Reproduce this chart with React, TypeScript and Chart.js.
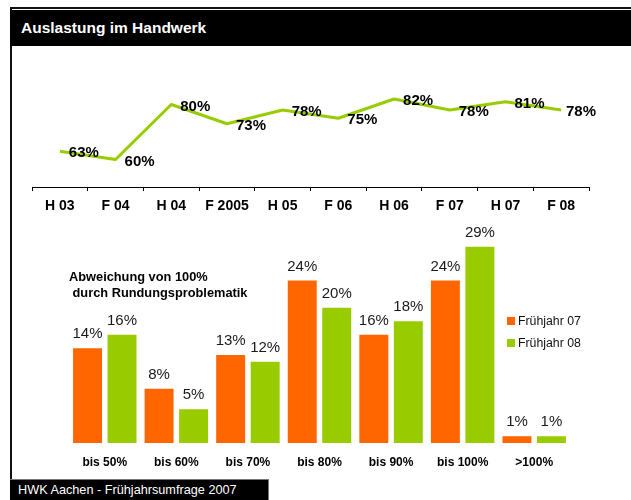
import React, { useEffect, useRef } from 'react';
import { Chart, registerables } from 'chart.js';

Chart.register(...registerables);

// ---- data ----
const lineLabels = ['H 03', 'F 04', 'H 04', 'F 2005', 'H 05', 'F 06', 'H 06', 'F 07', 'H 07', 'F 08'];
const lineValues = [63, 60, 80, 73, 78, 75, 82, 78, 81, 78];

const barCategories = ['bis 50%', 'bis 60%', 'bis 70%', 'bis 80%', 'bis 90%', 'bis 100%', '>100%'];
const spring07 = [14, 8, 13, 24, 16, 24, 1];
const spring08 = [16, 5, 12, 20, 18, 29, 1];
const seriesNames = ['Frühjahr 07', 'Frühjahr 08'];

const chartTitle = 'Auslastung im Handwerk';
const noteLines = ['Abweichung von 100%', ' durch Rundungsproblematik'];
const footerText = 'HWK Aachen - Frühjahrsumfrage 2007';

// ---- styles ----
const FONT = '"Liberation Sans", Arial, Helvetica, sans-serif';
const ORANGE = '#FF6600';
const GREEN = '#99CC00';
const seriesColors = [ORANGE, GREEN];

const lineLabelPlugin = {
  id: 'lineValueLabels',
  afterDatasetsDraw(chart: any) {
    const ctx = chart.ctx;
    const meta = chart.getDatasetMeta(0);
    const ds = chart.data.datasets[0];
    ctx.save();
    ctx.font = `bold 15px ${FONT}`;
    ctx.fillStyle = '#000';
    ctx.textBaseline = 'middle';
    ctx.textAlign = 'left';
    meta.data.forEach((pt: any, i: number) => {
      const text = ds.data[i] + '%';
      const w = ctx.measureText(text).width;
      let x = pt.x + 9;
      const maxRight = chart.chartArea.right + 7;
      if (x + w > maxRight) x = maxRight - w;
      ctx.fillText(text, x, pt.y + 2);
    });
    ctx.restore();
  },
};

const barLabelPlugin = {
  id: 'barValueLabels',
  afterDatasetsDraw(chart: any) {
    const ctx = chart.ctx;
    ctx.save();
    ctx.font = `15px ${FONT}`;
    ctx.fillStyle = '#1a1a1a';
    ctx.textBaseline = 'middle';
    ctx.textAlign = 'center';
    chart.data.datasets.forEach((ds: any, di: number) => {
      const meta = chart.getDatasetMeta(di);
      meta.data.forEach((bar: any, i: number) => {
        ctx.fillText(ds.data[i] + '%', bar.x, bar.y - 14);
      });
    });
    ctx.restore();
  },
};

export default function App() {
  const lineRef = useRef<HTMLCanvasElement>(null);
  const barRef = useRef<HTMLCanvasElement>(null);

  useEffect(() => {
    const lineChart = new Chart(lineRef.current as HTMLCanvasElement, {
      type: 'line',
      data: {
        labels: lineLabels,
        datasets: [
          {
            data: lineValues,
            borderColor: GREEN,
            borderWidth: 3,
            pointRadius: 0,
            tension: 0,
            borderJoinStyle: 'round',
            fill: false,
          },
        ],
      },
      options: {
        responsive: false,
        animation: false,
        layout: { padding: { left: 32, right: 42, top: 27, bottom: 13 } },
        plugins: { legend: { display: false }, tooltip: { enabled: false } },
        scales: {
          x: {
            type: 'category',
            offset: true,
            grid: {
              offset: true,
              drawOnChartArea: false,
              drawTicks: true,
              tickLength: 4,
              color: '#000',
              lineWidth: 1,
            },
            border: { display: true, color: '#000', width: 1 },
            ticks: {
              color: '#000',
              padding: 7,
              font: { family: FONT, size: 14, weight: 'bold' },
              maxRotation: 0,
              autoSkip: false,
            },
            afterFit: (scale: any) => {
              scale.height = 30;
            },
          },
          y: { display: false, min: 50, max: 90 },
        },
      },
      plugins: [lineLabelPlugin],
    } as any);

    const barChart = new Chart(barRef.current as HTMLCanvasElement, {
      type: 'bar',
      data: {
        labels: barCategories,
        datasets: [
          { label: seriesNames[0], data: spring07, backgroundColor: seriesColors[0], categoryPercentage: 0.964, barPercentage: 0.84 },
          { label: seriesNames[1], data: spring08, backgroundColor: seriesColors[1], categoryPercentage: 0.964, barPercentage: 0.84 },
        ],
      },
      options: {
        responsive: false,
        animation: false,
        layout: { padding: { left: 69, right: 61, top: 20, bottom: 7 } },
        plugins: { legend: { display: false }, tooltip: { enabled: false } },
        scales: {
          x: {
            grid: { display: false, drawTicks: false },
            border: { display: false },
            ticks: {
              color: '#000',
              padding: 12,
              font: { family: FONT, size: 12, weight: 'bold' },
              maxRotation: 0,
              autoSkip: false,
            },
            afterFit: (scale: any) => {
              scale.height = 30;
            },
          },
          y: { display: false, min: 0, max: 30 },
        },
      },
      plugins: [barLabelPlugin],
    } as any);

    return () => {
      lineChart.destroy();
      barChart.destroy();
    };
  }, []);

  const abs = (o: React.CSSProperties): React.CSSProperties => ({ position: 'absolute', ...o });

  return (
    <div
      style={{
        position: 'fixed',
        left: 0,
        top: 0,
        width: 631,
        height: 500,
        background: '#fff',
        overflow: 'hidden',
        fontFamily: FONT,
      }}
    >
      {/* frame lines */}
      <div style={abs({ left: 10, top: 7, width: 621, height: 2, background: '#111' })} />
      <div style={abs({ left: 10, top: 7, width: 2, height: 473, background: '#111' })} />

      {/* title bar */}
      <div
        style={abs({
          left: 10,
          top: 10,
          width: 621,
          height: 36,
          background: '#000',
          color: '#fff',
          fontWeight: 'bold',
          fontSize: 15.5,
          lineHeight: '36px',
          paddingLeft: 11,
          boxSizing: 'border-box',
          whiteSpace: 'nowrap',
        })}
      >
        {chartTitle}
      </div>

      <canvas ref={lineRef} width={631} height={180} style={abs({ left: 0, top: 50, width: 631, height: 180 })} />
      <canvas ref={barRef} width={631} height={260} style={abs({ left: 0, top: 220, width: 631, height: 260 })} />

      {/* note */}
      <div style={abs({ left: 69, top: 269, fontSize: 12.8, fontWeight: 'bold', color: '#000', lineHeight: '16px', whiteSpace: 'pre' })}>
        {noteLines[0]}
      </div>
      <div style={abs({ left: 69, top: 285, fontSize: 12.8, fontWeight: 'bold', color: '#000', lineHeight: '16px', whiteSpace: 'pre' })}>
        {noteLines[1]}
      </div>

      {/* legend */}
      {seriesNames.map((name, i) => (
        <div key={name} style={abs({ left: 507, top: 313 + i * 22, height: 16, whiteSpace: 'nowrap' })}>
          <div style={abs({ left: 0, top: 4, width: 8, height: 8, background: seriesColors[i] })} />
          <div style={abs({ left: 11, top: 0, fontSize: 12.3, lineHeight: '16px', color: '#111' })}>{name}</div>
        </div>
      ))}

      {/* footer */}
      <div
        style={abs({
          left: 10,
          top: 479,
          width: 259,
          height: 21,
          background: '#000',
          borderTop: '1px solid #777',
          borderRight: '1px solid #777',
          boxSizing: 'border-box',
          color: '#fff',
          fontSize: 12.7,
          lineHeight: '20px',
          paddingLeft: 8,
          whiteSpace: 'nowrap',
        })}
      >
        {footerText}
      </div>
    </div>
  );
}
